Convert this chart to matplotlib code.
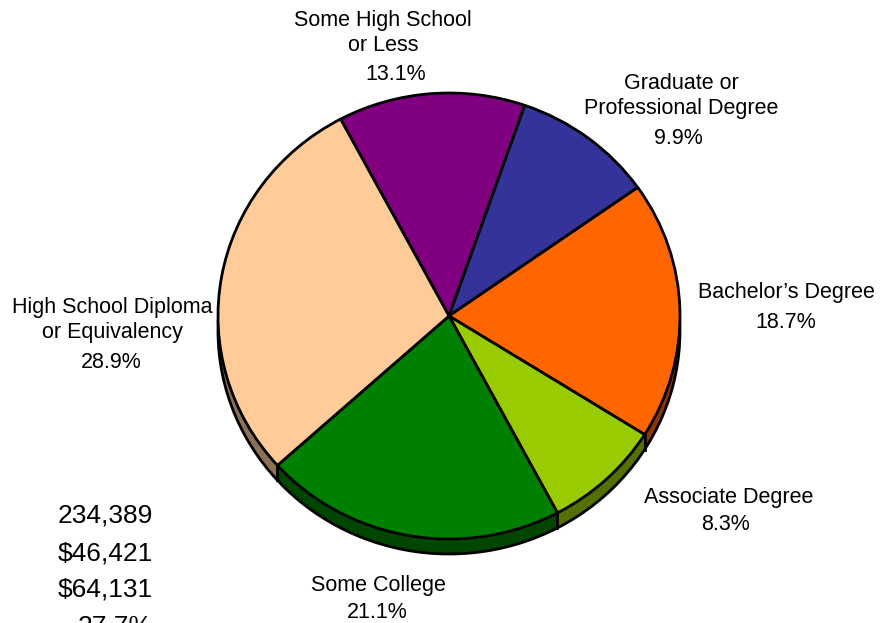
import numpy as np
import matplotlib
matplotlib.use('Agg')
import matplotlib.pyplot as plt
from matplotlib.patches import Ellipse
from matplotlib.colors import to_rgb

plt.rcParams['font.family'] = ['Liberation Sans', 'DejaVu Sans']

## data, in clockwise order starting at the top-left edge
categories = ['Some High School\nor Less', 'Graduate or\nProfessional Degree',
              "Bachelor\u2019s Degree", 'Associate Degree', 'Some College',
              'High School Diploma\nor Equivalency']
shares = [13.1, 9.9, 18.7, 8.3, 21.1, 28.9]
colors = ['#800080', '#333399', '#FF6600', '#99CC00', '#008000', '#FFCC99']
stats = ['234,389', '$46,421', '$64,131', '27.7%']

## layout, in pixels
W, H = 890, 623
cx, cy = 449, 316      # pie centre
rx, ry = 231, 223      # horizontal / vertical radius
depth = 15             # thickness of the pie side
name_pos = [(383, 33), (681, 96), (786, 293), (729, 497), (378, 585), (112, 320)]
pct_pos = [(396, 75), (678, 138), (786, 322), (725, 525), (377, 612), (111, 363)]

fig = plt.figure(figsize=(W/100., H/100.), dpi=100)
ax = fig.add_axes([0, 0, 1, 1])

d = depth / float(ry)
side_cols = [tuple(0.55*c for c in to_rgb(col)) for col in colors]

# side of the pie: stack of shifted pies
for k in range(depth, 0, -1):
    ax.pie(shares, colors=side_cols, startangle=118, counterclock=False,
           center=(0, -k/float(ry)), radius=1,
           wedgeprops=dict(edgecolor='none', linewidth=0))
ax.add_patch(Ellipse((0, -d), 2, 2, fill=False, edgecolor='black',
                     linewidth=2, zorder=3))

# top face
wedges, _ = ax.pie(shares, colors=colors, startangle=118, counterclock=False,
                   center=(0, 0), radius=1,
                   wedgeprops=dict(edgecolor='black', linewidth=2,
                                   joinstyle='round', zorder=5))
for w in wedges:
    w.set_zorder(5)

# vertical dividers on the side
for w in wedges:
    t = np.deg2rad(w.theta1)
    if np.sin(t) < -0.05:
        ax.plot([np.cos(t), np.cos(t)], [np.sin(t), np.sin(t) - d],
                color='black', linewidth=2, zorder=4)

ax.set_aspect('auto')
ax.set_xlim(-cx/float(rx), (W - cx)/float(rx))
ax.set_ylim(-(H - cy)/float(ry), cy/float(ry))
ax.axis('off')

# labels
for name, share, (nx, ny), (px, py) in zip(categories, shares, name_pos, pct_pos):
    fig.text(nx/float(W), 1 - ny/float(H), name, ha='center', va='center',
             fontsize=15.5, linespacing=1.3)
    fig.text(px/float(W), 1 - py/float(H), '%.1f%%' % share, ha='center',
             va='center', fontsize=15.5)

for i, s in enumerate(stats):
    fig.text(153/float(W), 1 - (516 + 37*i)/float(H), s, ha='right',
             va='center', fontsize=19)

fig.savefig('out.png', dpi=100)
